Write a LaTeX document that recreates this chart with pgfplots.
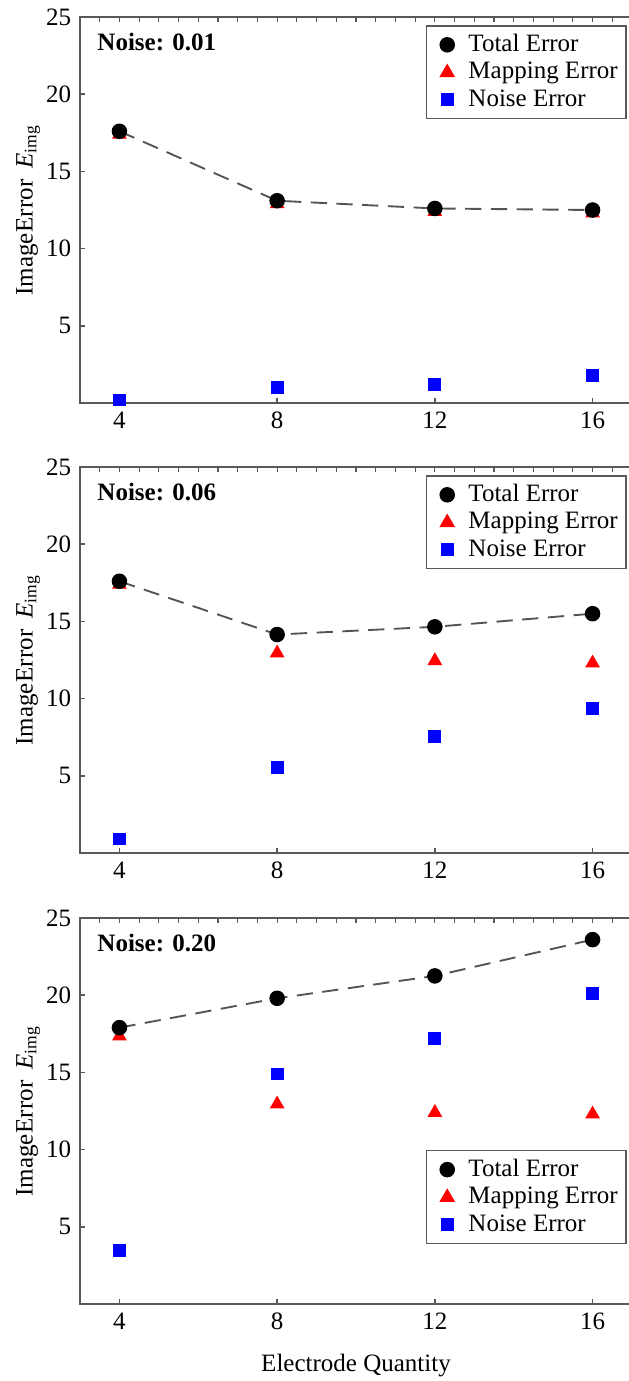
\documentclass[border=0pt]{standalone}
\usepackage{fontspec}
\setmainfont{Liberation Serif}
\usepackage{pgfplots}
\pgfplotsset{compat=1.18}
\definecolor{framegray}{gray}{0.35}
\definecolor{dashgray}{gray}{0.33}
\definecolor{pblue}{RGB}{0,0,255}
\definecolor{pred}{RGB}{255,0,0}
\pgfplotsset{
  panel/.style={
    width=220.8pt, height=154.4pt, scale only axis,
    xmin=3, xmax=17, ymin=0, ymax=25,
    xtick={4,8,12,16}, ytick={5,10,15,20,25},
    xtick pos=left, ytick pos=left,
    tick align=inside, major tick length=2.2pt,
    axis line style={framegray, line width=0.75pt},
    tick style={framegray, line width=0.6pt},
    font=\fontsize{10}{12}\selectfont,
    /pgf/number format/assume math mode=true,
    every tick label/.append style={font=\fontsize{10}{12}\selectfont},
    every axis y label/.style={at={(axis description cs:-0.094,0.5)}, rotate=90, anchor=center},
    every axis x label/.style={at={(axis description cs:0.5,0)}, yshift=-24.8pt, anchor=center},
    ylabel={Image\kern0.3pt Error\hspace{0.45em}\textit{E}\textsubscript{img}},
    legend cell align=left,
    legend image code/.code={\path (-6.6pt,0pt) (6.2pt,0pt); \draw[##1] plot coordinates {(0pt,0pt)};},
    legend style={draw=framegray, line width=0.6pt, font=\fontsize{10}{12}\selectfont,
      inner sep=1.4pt, row sep=-1.2pt},
    clip=false,
  },
  topticks/.style={
    width=220.8pt, height=154.4pt, scale only axis,
    xmin=3, xmax=17, ymin=0, ymax=25,
    xtick={3.5,4,...,16.5}, xticklabels={}, ytick=\empty,
    xtick pos=right, tick align=inside, major tick length=1.8pt,
    axis line style={draw=none},
    tick style={framegray, line width=0.5pt},
  },
  totline/.style={dashgray, line width=0.75pt, dash pattern=on 6.5pt off 3.8pt, forget plot},
  totmark/.style={only marks, mark=*, mark size=2.9pt, black, forget plot},
  mapmark/.style={only marks, mark=triangle*, mark size=3.0pt, pred, forget plot},
  noimark/.style={only marks, mark=square*, mark size=2.35pt, pblue, forget plot},
}
\newcommand{\legimages}{%
  \addlegendimage{only marks, mark=*, mark size=2.8pt, black}
  \addlegendentry{Total Error}
  \addlegendimage{only marks, mark=triangle*, mark size=3.0pt, pred}
  \addlegendentry{Mapping Error}
  \addlegendimage{only marks, mark=square*, mark size=2.3pt, pblue}
  \addlegendentry{Noise Error}}
\begin{document}
\begin{tikzpicture}
\path[use as bounding box] (-32pt,6.8pt) rectangle (219.6pt,-545.6pt);
% ---------- Panel 1 ----------
\begin{axis}[topticks, at={(0,0)}, anchor=north west]
\end{axis}
\begin{axis}[panel, at={(0,0)}, anchor=north west,
  legend style={at={(1,1)}, anchor=north east, xshift=-2pt, yshift=-3.2pt}]
\legimages
\addplot[mapmark] coordinates {(4,17.4) (8,12.9) (12,12.4) (16,12.3)};
\addplot[noimark] coordinates {(4,0.2) (8,1.0) (12,1.2) (16,1.8)};
\addplot[totline] coordinates {(4,17.6) (8,13.1) (12,12.6) (16,12.5)};
\addplot[totmark] coordinates {(4,17.6) (8,13.1) (12,12.6) (16,12.5)};
\node[anchor=west, inner sep=0pt, font=\bfseries\fontsize{10}{12}\selectfont, xshift=6.8pt, yshift=-9.9pt] at (rel axis cs:0,1) {Noise: 0.01};
\end{axis}
% ---------- Panel 2 ----------
\begin{axis}[topticks, at={(0,-180pt)}, anchor=north west]
\end{axis}
\begin{axis}[panel, at={(0,-180pt)}, anchor=north west,
  legend style={at={(1,1)}, anchor=north east, xshift=-2pt, yshift=-3.2pt}]
\legimages
\addplot[mapmark] coordinates {(4,17.4) (8,12.95) (12,12.45) (16,12.3)};
\addplot[noimark] coordinates {(4,0.9) (8,5.55) (12,7.55) (16,9.35)};
\addplot[totline] coordinates {(4,17.6) (8,14.15) (12,14.65) (16,15.5)};
\addplot[totmark] coordinates {(4,17.6) (8,14.15) (12,14.65) (16,15.5)};
\node[anchor=west, inner sep=0pt, font=\bfseries\fontsize{10}{12}\selectfont, xshift=6.8pt, yshift=-9.9pt] at (rel axis cs:0,1) {Noise: 0.06};
\end{axis}
% ---------- Panel 3 ----------
\begin{axis}[topticks, at={(0,-360.4pt)}, anchor=north west]
\end{axis}
\begin{axis}[panel, at={(0,-360.4pt)}, anchor=north west,
  xlabel={Electrode Quantity},
  legend style={at={(1,0)}, anchor=south east, xshift=-2pt, yshift=24pt}]
\legimages
\addplot[mapmark] coordinates {(4,17.35) (8,12.95) (12,12.4) (16,12.3)};
\addplot[noimark] coordinates {(4,3.45) (8,14.9) (12,17.2) (16,20.1)};
\addplot[totline] coordinates {(4,17.9) (8,19.8) (12,21.25) (16,23.6)};
\addplot[totmark] coordinates {(4,17.9) (8,19.8) (12,21.25) (16,23.6)};
\node[anchor=west, inner sep=0pt, font=\bfseries\fontsize{10}{12}\selectfont, xshift=6.8pt, yshift=-9.9pt] at (rel axis cs:0,1) {Noise: 0.20};
\end{axis}
\end{tikzpicture}
\end{document}
